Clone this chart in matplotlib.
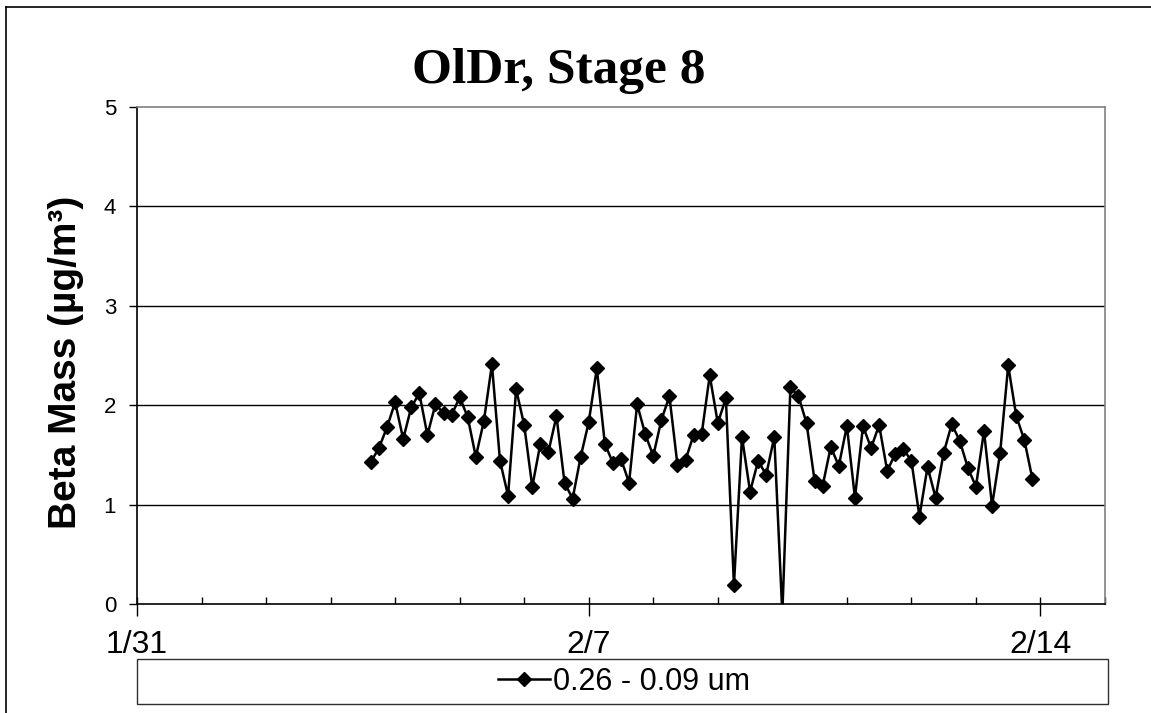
import numpy as np
import pandas as pd
import matplotlib
matplotlib.use('Agg')
import matplotlib.pyplot as plt
import matplotlib.dates as mdates
from matplotlib.lines import Line2D
from matplotlib.patches import Rectangle

# Chart data (3 hour samples)
title_text = 'OlDr, Stage 8'
y_label = 'Beta Mass (µg/m³)'
series_name = '0.26 - 0.09 um'
first_sample = '2011-02-03 15:00'
sample_freq = '3h'
beta_mass = [1.43, 1.57, 1.78, 2.03, 1.66, 1.98, 2.12, 1.70, 2.01, 1.92, 1.90, 2.08, 1.88, 1.48, 1.84, 2.41, 1.44,
             1.09, 2.16, 1.80, 1.18, 1.61, 1.53, 1.89, 1.22, 1.06, 1.48, 1.83, 2.37, 1.61, 1.42, 1.46, 1.22, 2.01,
             1.71, 1.49, 1.85, 2.09, 1.40, 1.45, 1.70, 1.71, 2.30, 1.82, 2.07, 0.19, 1.68, 1.13, 1.44, 1.30, 1.68,
             -0.10, 2.18, 2.09, 1.82, 1.24, 1.19, 1.58, 1.39, 1.79, 1.07, 1.79, 1.57, 1.80, 1.34, 1.51, 1.56,
             1.44, 0.88, 1.38, 1.07, 1.52, 1.81, 1.64, 1.37, 1.18, 1.74, 0.99, 1.52, 2.40, 1.89, 1.65, 1.26]
x_start = '2011-01-31'
x_end = '2011-02-15'
x_tick_dates = ['2011-01-31', '2011-02-07', '2011-02-14']
x_tick_labels = ['1/31', '2/7', '2/14']
y_ticks = [0, 1, 2, 3, 4, 5]

times = pd.date_range(first_sample, periods=len(beta_mass), freq=sample_freq)

plt.rcParams['font.family'] = ['Liberation Sans', 'DejaVu Sans']

fig = plt.figure(figsize=(11.51, 7.13), dpi=100)
ax = fig.add_axes([137 / 1151, 109 / 713, 968 / 1151, 497 / 713])

# horizontal gridlines
for yv in y_ticks[1:-1]:
    ax.axhline(yv, color='black', lw=1.0, zorder=1)

ax.plot(times, beta_mass, color='black', lw=1.8, marker='D', ms=7.5,
        markerfacecolor='black', markeredgecolor='black', zorder=3)

ax.set_xlim(pd.Timestamp(x_start), pd.Timestamp(x_end))
ax.set_ylim(0, 5)

# x axis: major ticks outside, daily minor ticks inside
ax.set_xticks([pd.Timestamp(d) for d in x_tick_dates])
ax.set_xticklabels(x_tick_labels, fontsize=23)
ax.xaxis.set_minor_locator(mdates.DayLocator())
ax.xaxis.remove_overlapping_locs = False
ax.tick_params(axis='x', which='major', direction='out', length=8.6, width=1.0,
               pad=10, colors='black')
ax.tick_params(axis='x', which='minor', direction='in', length=4.8, width=1.0)

ax.set_yticks(y_ticks)
ax.set_yticklabels([str(t) for t in y_ticks], fontsize=16)
ax.tick_params(axis='y', which='major', direction='out', length=6, width=1.0, pad=9)

for s in ['top', 'right']:
    ax.spines[s].set_color('#808080')
    ax.spines[s].set_linewidth(1.2)
for s in ['left', 'bottom']:
    ax.spines[s].set_color('black')
    ax.spines[s].set_linewidth(1.2)

# title and y label
fig.text(559 / 1151, 1 - 83 / 713, title_text, ha='center', va='baseline',
         fontsize=37, fontweight='bold', family='Liberation Serif')
fig.text(66 / 1151, 1 - 362 / 713, y_label, ha='center', va='center', rotation=90,
         fontsize=28, fontweight='bold')

# legend box under the axis
fig.patches.append(Rectangle((137 / 1151, 1 - 704 / 713), 971 / 1151, 45 / 713,
                             transform=fig.transFigure, fill=False,
                             edgecolor='#303030', lw=1.0))
handle = Line2D([], [], color='black', lw=1.8, marker='D', ms=7.5)
fig.legend([handle], [series_name], loc='center', bbox_to_anchor=(624 / 1151, 1 - 682 / 713),
           frameon=False, fontsize=22, handlelength=1.7, handletextpad=0.1, numpoints=1,
           borderpad=0, borderaxespad=0)

# outer chart border
fig.add_artist(Line2D([6 / 1151, 6 / 1151], [0, 1 - 7 / 713], transform=fig.transFigure,
                      color='black', lw=1.2))
fig.add_artist(Line2D([6 / 1151, 1], [1 - 7 / 713, 1 - 7 / 713], transform=fig.transFigure,
                      color='black', lw=1.2))

fig.savefig('out.png', dpi=100)
